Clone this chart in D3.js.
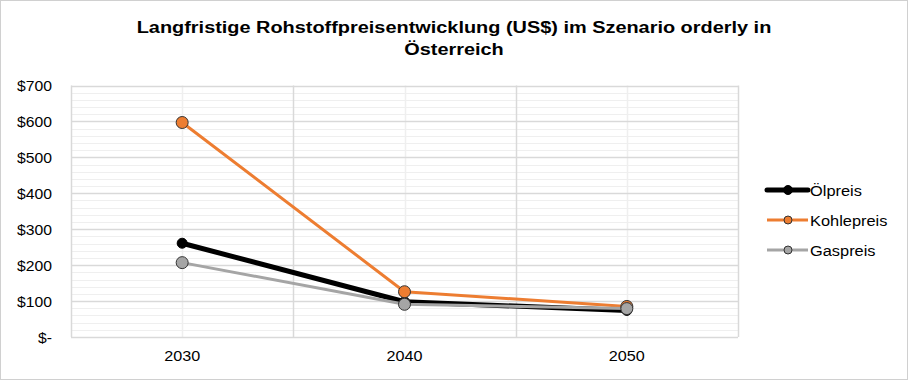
<!DOCTYPE html>
<html><head><meta charset="utf-8">
<script src="https://cdn.jsdelivr.net/npm/d3@7"></script>
<style>body{margin:0;background:#fff;} svg{display:block;font-family:"Liberation Sans",Arial,sans-serif;}</style>
</head><body>
<svg id="c" width="908" height="380"></svg>
<script>
const categories = ["2030", "2040", "2050"];
const seriesNames = ["Ölpreis", "Kohlepreis", "Gaspreis"];
const oelValues = [261, 98, 74];
const kohleValues = [597, 126, 85];
const gasValues = [207, 91, 79];
const yTicks = [0, 100, 200, 300, 400, 500, 600, 700];
const yTickLabels = ["$-", "$100", "$200", "$300", "$400", "$500", "$600", "$700"];

const series = [
  {name: seriesNames[0], values: oelValues, color: "#000000", width: 5, r: 5, fill: "#000000", stroke: "#000000", lr: 4.5},
  {name: seriesNames[1], values: kohleValues, color: "#ED7D31", width: 3, r: 6, fill: "#ED7D31", stroke: "#333333", lr: 4},
  {name: seriesNames[2], values: gasValues, color: "#A5A5A5", width: 3, r: 6, fill: "#A5A5A5", stroke: "#333333", lr: 4}
];

const FONT = "Liberation Sans, Arial, sans-serif";
const svg = d3.select("#c");
svg.append("rect").attr("x",0.5).attr("y",0.5).attr("width",907).attr("height",379)
  .attr("fill","#fff").attr("stroke","#d0d0d0");

const L = 71, R = 738, T = 85.5, B = 337;
const x = d3.scaleBand().domain(categories).range([L, R]);
const y = d3.scaleLinear().domain([0, 700]).range([B, T]);

// horizontal scale factor so that a text node reaches a target width
function stretchFactor(node, target) {
  const w = node.getComputedTextLength();
  return w > 0 ? target / w : 1;
}

const g = svg.append("g");
g.selectAll(".minor").data(d3.range(0, 701, 20).filter(v => v % 100 !== 0)).enter().append("line")
  .attr("x1", L).attr("x2", R).attr("y1", d => Math.round(y(d))+0.5).attr("y2", d => Math.round(y(d))+0.5)
  .attr("stroke", "#efefef").attr("stroke-width", 1);
g.selectAll(".vminor").data(categories).enter().append("line")
  .attr("x1", d => Math.round(x(d)+x.bandwidth()/2)+0.5).attr("x2", d => Math.round(x(d)+x.bandwidth()/2)+0.5)
  .attr("y1", T).attr("y2", B).attr("stroke", "#efefef").attr("stroke-width", 1.5);
g.selectAll(".major").data(yTicks).enter().append("line")
  .attr("x1", L).attr("x2", R).attr("y1", d => Math.round(y(d))+0.5).attr("y2", d => Math.round(y(d))+0.5)
  .attr("stroke", "#d9d9d9").attr("stroke-width", 1.5);
const bounds = categories.map(c => x(c)).concat([R]);
g.selectAll(".vmajor").data(bounds).enter().append("line")
  .attr("x1", d => Math.round(d)+0.5).attr("x2", d => Math.round(d)+0.5)
  .attr("y1", T).attr("y2", B).attr("stroke", "#d9d9d9").attr("stroke-width", 1.5);

// y axis labels
const yAxis = d3.axisLeft(y).tickValues(yTicks).tickFormat((d,i) => yTickLabels[i]).tickSize(0);
const ya = svg.append("g").attr("transform", `translate(${L},0)`).call(yAxis);
ya.select(".domain").remove();
ya.selectAll("text").attr("font-size", 14).attr("fill", "#000").attr("font-family", FONT)
  .attr("x", 0).attr("dy", null).attr("y", 5.3);
{
  const ref = ya.selectAll("text").filter((d) => d === 700).node();
  const s = stretchFactor(ref, 35);
  ya.selectAll("text").attr("transform", `translate(-19,0) scale(${s},1)`);
}

// x axis labels
const xAxis = d3.axisBottom(x).tickSize(0);
const xa = svg.append("g").attr("transform", `translate(0,${B})`).call(xAxis);
xa.select(".domain").remove();
xa.selectAll("text").attr("font-size", 15).attr("fill", "#000").attr("font-family", FONT)
  .attr("dy", null).attr("y", 0);
{
  const s = stretchFactor(xa.select("text").node(), 36);
  xa.selectAll("text").attr("transform", `translate(0,24) scale(${s},1)`);
}

const cx = d => x(d) + x.bandwidth()/2;
const line = d3.line().x((v,i) => cx(categories[i])).y(v => y(v));

series.forEach(s => {
  svg.append("path").datum(s.values).attr("d", line).attr("fill","none")
    .attr("stroke", s.color).attr("stroke-width", s.width).attr("stroke-linejoin","round").attr("stroke-linecap","round");
});
series.forEach(s => {
  svg.append("g").selectAll("circle").data(s.values).enter().append("circle")
    .attr("cx", (v,i) => cx(categories[i])).attr("cy", v => y(v)).attr("r", s.r)
    .attr("fill", s.fill).attr("stroke", s.stroke).attr("stroke-width", 1);
});

// title
const titleLines = ["Langfristige Rohstoffpreisentwicklung (US$) im Szenario orderly in", "Österreich"];
const tg = svg.append("g");
const t1 = tg.append("text").attr("text-anchor","middle").attr("font-weight","bold").attr("font-size",17)
  .attr("fill","#000").attr("font-family", FONT).text(titleLines[0]);
const ts = stretchFactor(t1.node(), 635);
t1.attr("transform", `translate(454,33) scale(${ts},1)`);
tg.append("text").attr("text-anchor","middle").attr("font-weight","bold").attr("font-size",17)
  .attr("fill","#000").attr("font-family", FONT).text(titleLines[1])
  .attr("transform", `translate(454,55) scale(${ts},1)`);

// legend
const lg = svg.append("g");
const lt = [];
series.forEach((s, i) => {
  const yy = 190 + i * 30;
  lg.append("line").attr("x1", 767).attr("x2", 808).attr("y1", yy).attr("y2", yy)
    .attr("stroke", s.color).attr("stroke-width", s.width).attr("stroke-linecap", i===0 ? "round" : "butt");
  lg.append("circle").attr("cx", 788).attr("cy", yy).attr("r", s.lr)
    .attr("fill", s.fill).attr("stroke", s.stroke).attr("stroke-width", 1);
  lt.push({t: lg.append("text").attr("font-size", 15.5).attr("fill","#000").attr("font-family", FONT).text(s.name), yy});
});
const ls = stretchFactor(lt[1].t.node(), 77.5);
lt.forEach(o => o.t.attr("transform", `translate(810,${o.yy + 5.5}) scale(${ls},1)`));
</script>
</body></html>
